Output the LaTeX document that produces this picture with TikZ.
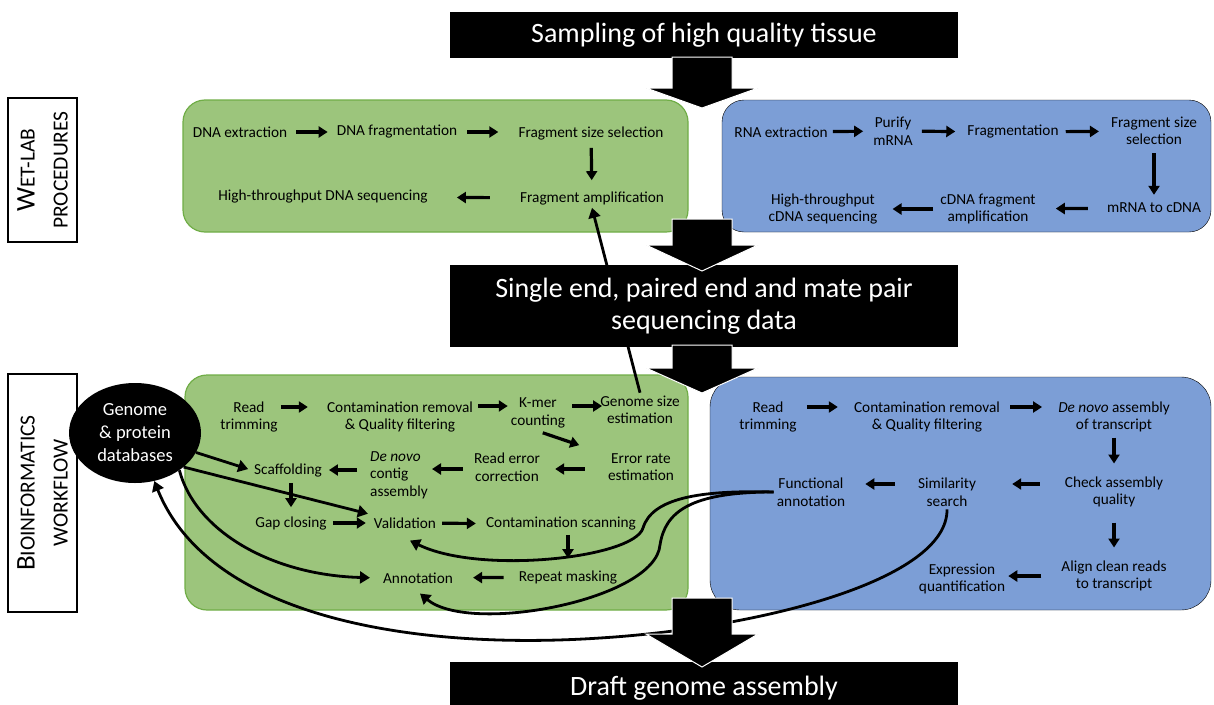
\documentclass[tikz,border=0pt]{standalone}
\usepackage{fontspec}
\setmainfont{Carlito}
\usetikzlibrary{shapes.geometric, arrows.meta, positioning}

\definecolor{labgreen}{HTML}{9CC57C}
\definecolor{labgreenedge}{HTML}{70AD47}
\definecolor{seqblue}{HTML}{7C9ED6}
\newcommand{\leadcap}[1]{{\fontsize{27}{33}\selectfont #1}}

\begin{document}
\begin{tikzpicture}[x=1pt, y=-1pt,
    side/.style={draw, line width=1.4pt, rotate=90, minimum height=69pt, inner sep=0pt, align=center, font=\fontsize{21.5}{33}\selectfont},
    greenpanel/.style={fill=labgreen, draw=labgreenedge, line width=1.2pt, rounded corners=22pt},
    bluepanel/.style={fill=seqblue, rounded corners=22pt},
    stage/.style={rectangle, fill=black, text=white, minimum width=508pt, align=center, font=\fontsize{28}{32}\selectfont},
    task/.style={align=center, inner sep=3pt, font=\fontsize{15.3}{17.5}\selectfont},
    arrow/.style={-{Triangle[length=9pt, width=11pt]}, line width=3.2pt, shorten <=6pt, shorten >=6pt},
    link/.style={-{Triangle[length=10pt, width=12pt]}, line width=2.8pt},
    bigarrow/.style={fill=black, draw=white, line width=1pt}
  ]
  \useasboundingbox (0,0) rectangle (1214,704);

  % side labels
  \node[side, minimum width=144pt] (wetlab) at (42.5,170) {\leadcap{W}ET-LAB\\PROCEDURES};
  \node[side, minimum width=238pt] (bioinf) at (42.5,493) {\leadcap{B}IOINFORMATICS\\WORKFLOW};

  % panels
  \draw[greenpanel] (183,100) rectangle (688,232);
  \draw[bluepanel] (722,100) rectangle (1211,232);
  \draw[greenpanel] (185,375) rectangle (688,610);
  \draw[bluepanel, rounded corners=30pt] (710,377) rectangle (1211,610);

  % wet-lab, DNA
  \node[task] (dnaext) at (240,132) {DNA extraction};
  \node[task] (dnafrag) at (397,132) {DNA fragmentation};
  \node[task] (sizesel) at (591,134) {Fragment size selection};
  \node[task] (amplif) at (592,198) {Fragment amplification};
  \node[task] (dnaseq) at (323,197) {High-throughput DNA sequencing};

  % wet-lab, RNA
  \node[task] (rnaext) at (781,132) {RNA extraction};
  \node[task] (purify) at (893,131) {Purify\\mRNA};
  \node[task] (rnafrag) at (1013,132) {Fragmentation};
  \node[task] (rnasize) at (1154,131) {Fragment size\\selection};
  \node[task] (tocdna) at (1154,208) {mRNA to cDNA};
  \node[task] (cdnaamp) at (988,209) {cDNA fragment\\amplification};
  \node[task] (cdnaseq) at (823,209) {High-throughput\\cDNA sequencing};

  % genome workflow
  \node[ellipse, fill=black, text=white, minimum width=132pt, minimum height=100pt, inner sep=0pt, align=center, font=\fontsize{18.5}{23}\selectfont] (db) at (135,433) {Genome\\\& protein\\databases};
  \node[task] (gtrim) at (249,417) {Read\\trimming};
  \node[task] (gcontam) at (400,417) {Contamination removal\\\& Quality filtering};
  \node[task] (kmer) at (538,413) {K-mer\\counting};
  \node[task] (gsize) at (640,410) {Genome size\\estimation};
  \node[task] (errrate) at (641,467) {Error rate\\estimation};
  \node[task] (readerr) at (507,467) {Read error\\correction};
  \node[task, align=left] (denovo) at (399,475) {\textit{De novo}\\contig\\assembly};
  \node[task] (scaff) at (288,470) {Scaffolding};
  \node[task] (gap) at (291,523) {Gap closing};
  \node[task] (valid) at (405,523) {Validation};
  \node[task] (cscan) at (561,524) {Contamination scanning};
  \node[task] (rmask) at (568,577) {Repeat masking};
  \node[task] (annot) at (418,578) {Annotation};

  % transcriptome workflow
  \node[task] (btrim) at (768,417) {Read\\trimming};
  \node[task] (bcontam) at (927,417) {Contamination removal\\\& Quality filtering};
  \node[task] (assembly) at (1114,417) {\textit{De novo} assembly\\of transcript};
  \node[task] (check) at (1114,492) {Check assembly\\quality};
  \node[task] (simil) at (947,492) {Similarity\\search};
  \node[task] (funcann) at (811,492) {Functional\\annotation};
  \node[task] (align) at (1114,576) {Align clean reads\\to transcript};
  \node[task] (express) at (962,579) {Expression\\quantification};

  % long connectors
  \draw[link] (gsize.north) -- (amplif.south);
  \draw[link] (funcann.west) .. controls (700,490) and (652,498) .. (643,528)
    .. controls (634,558) and (480,575) .. ([xshift=5pt, yshift=-9pt]valid.south);
  \draw[link] (funcann.west) .. controls (690,492) and (665,512) .. (660,545)
    .. controls (655,600) and (470,635) .. ([xshift=2pt, yshift=-7pt]annot.south);
  \draw[link] (simil.south) .. controls (948,580) and (760,628) .. (600,638)
    .. controls (420,650) and (210,620) .. (db);
  \draw[link, shorten >=3pt] (db) -- (scaff.west);
  \draw[link, shorten >=3pt] (db.-35) -- (valid.north west);
  \draw[link, shorten >=10pt] (db.-40) .. controls (195,530) and (270,575) .. (annot.west);

  % stages
  \node[stage, minimum height=46pt] (sampling) at (704,35) {Sampling of high quality tissue};
  \node[stage, minimum height=82pt] (seqdata) at (704,306) {Single end, paired end and mate pair\\sequencing data};
  \node[stage, minimum height=52pt] (draft) at (704,688) {Draft genome assembly};

  \draw[bigarrow] (672,57) -- (732,57) -- (732,88) -- (758,88) -- (702,108) -- (646,88) -- (672,88) -- cycle;
  \draw[bigarrow] (672,219) -- (732,219) -- (732,245) -- (758,245) -- (702,271) -- (646,245) -- (672,245) -- cycle;
  \draw[bigarrow] (672,345) -- (732,345) -- (732,368) -- (758,368) -- (702,393) -- (646,368) -- (672,368) -- cycle;
  \draw[bigarrow] (672,598) -- (732,598) -- (732,634) -- (758,634) -- (702,667) -- (646,634) -- (672,634) -- cycle;

  % DNA steps
  \draw[arrow] (dnaext) -- (dnafrag);
  \draw[arrow, shorten <=7pt, shorten >=17pt] (dnafrag.east) -- (dnafrag.east -| sizesel.west);
  \draw[arrow, shorten <=4pt, shorten >=8pt] (sizesel) -- (amplif);
  \draw[arrow, shorten <=27pt, shorten >=26pt] (amplif) -- (dnaseq);

  % RNA steps
  \draw[arrow, shorten <=2pt, shorten >=7pt] (rnaext) -- (purify);
  \draw[arrow, shorten >=9pt] (purify) -- (rnafrag);
  \draw[arrow, shorten <=4pt, shorten >=9pt] (rnafrag) -- (rnasize);
  \draw[arrow, shorten <=5pt, shorten >=5pt] (rnasize) -- (tocdna);
  \draw[arrow, shorten <=16pt, shorten >=17pt] (tocdna) -- (cdnaamp);
  \draw[arrow, shorten <=4pt, shorten >=12pt] (cdnaamp) -- (cdnaseq);

  % genome steps
  \draw[arrow, shorten <=0pt, shorten >=16pt] ([yshift=10pt]gtrim.east) -- ([yshift=10pt]gcontam.west);
  \draw[arrow, shorten <=2pt, shorten >=0pt] ([yshift=11pt]gcontam.east) -- ([yshift=7pt]kmer.west);
  \draw[arrow, shorten <=4pt, shorten >=-5pt] ([yshift=7pt]kmer.east) -- ([yshift=4pt]gsize.west);
  \draw[arrow, shorten <=5pt, shorten >=27pt] (kmer.south) -- (errrate.160);
  \draw[arrow, shorten <=20pt, shorten >=12pt] ([yshift=-2pt]errrate.west) -- ([yshift=-2pt]readerr.east);
  \draw[arrow, shorten <=8pt, shorten >=1pt] ([yshift=-2pt]readerr.west) -- ([yshift=6pt]denovo.east);
  \draw[arrow, shorten <=10pt, shorten >=4pt] ([yshift=5pt]denovo.west) -- (scaff.east);
  \draw[arrow, shorten <=3pt, shorten >=6pt] (scaff.south -| gap.north) -- (gap.north);
  \draw[arrow, shorten <=3pt, shorten >=5pt] (gap) -- (valid);
  \draw[arrow, shorten <=3pt, shorten >=7pt] (valid) -- (cscan);
  \draw[arrow, shorten <=1pt, shorten >=9pt] (cscan.south -| rmask.north) -- (rmask.north);
  \draw[arrow, shorten <=12pt, shorten >=17pt] (rmask) -- (annot);

  % transcriptome steps
  \draw[arrow, shorten <=7pt, shorten >=13pt] ([yshift=10pt]btrim.east) -- ([yshift=10pt]bcontam.west);
  \draw[arrow, shorten <=7pt, shorten >=13pt] ([yshift=10pt]bcontam.east) -- ([yshift=10pt]assembly.west);
  \draw[arrow, shorten <=2pt, shorten >=10pt] (assembly) -- (check);
  \draw[arrow, shorten <=22pt, shorten >=33pt] ([yshift=8pt]check.west) -- ([yshift=8pt]simil.east);
  \draw[arrow, shorten <=20pt, shorten >=17pt] ([yshift=8pt]simil.west) -- ([yshift=8pt]funcann.east);
  \draw[arrow, shorten <=12pt, shorten >=10pt] (check) -- (align);
  \draw[arrow, shorten <=17pt, shorten >=0pt] (align.west) -- (align.west -| express.east);
\end{tikzpicture}
\end{document}
